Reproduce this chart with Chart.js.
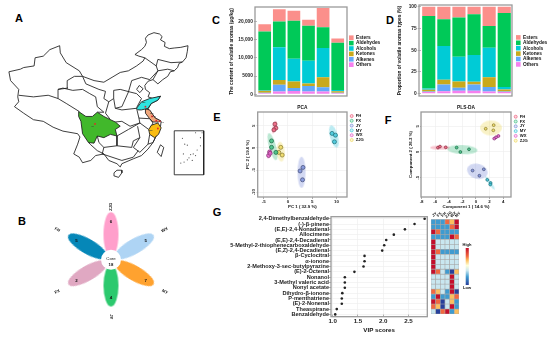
<!DOCTYPE html>
<html><head><meta charset="utf-8">
<style>
html,body{margin:0;padding:0;background:#fff;width:550px;height:337px;overflow:hidden}
canvas{position:absolute;left:0;top:0;filter:blur(.3px)}
.L{position:absolute;font:bold 11px "Liberation Sans",Arial,sans-serif;color:#000;line-height:11px;transform:translate(-50%,-50%)}
</style>
<script src="https://cdn.jsdelivr.net/npm/chart.js@4"></script>
</head><body>
<div class="L" style="left:19px;top:18px">A</div>
<div class="L" style="left:22px;top:221px">B</div>
<div class="L" style="left:216px;top:20px">C</div>
<div class="L" style="left:390px;top:20px">D</div>
<div class="L" style="left:217px;top:117px">E</div>
<div class="L" style="left:388px;top:120px">F</div>
<div class="L" style="left:217px;top:212px">G</div>
<script>
/* ---------- categories ---------- */
const categories=['JY','FX','FH','ZJG','WX','MY'];
const aromaTypes=['Esters','Aldehydes','Alcohols','Ketones','Alkenes','Others'];
const aromaColors=['#FB8F8B','#00C958','#00CBD6','#C9A91C','#62A9FA','#F680EE'];
const groupNames=['FH','FX','JY','MY','WX','ZJG'];
const groupColors=['#EE5F7C','#3FBE82','#7D90D9','#3FC7DA','#E560C9','#EFD95E'];

/* ---------- panel C: content (ug/kg) ---------- */
const contentOthers=[300,800,900,800,750,300];
const contentAlkenes=[150,1800,850,1500,1200,150];
const contentKetones=[550,1350,1750,650,2750,400];
const contentAlcohols=[200,8950,6300,6250,8050,350];
const contentAldehydes=[16050,7100,10400,9600,5700,12950];
const contentEsters=[2000,3400,2750,1650,5250,1150];
const contentTicks=[0,5000,10000,15000,20000];

/* ---------- panel D: proportion (%) ---------- */
const shareOthers=[2,3,3.5,3.5,2.7,2];
const shareAlkenes=[0.5,7.7,3.5,7.2,5,0.7];
const shareKetones=[2.1,5.3,7,3.1,11.3,2.3];
const shareAlcohols=[1.4,39,28.5,30.7,34,2.7];
const shareAldehydes=[83.3,30.5,45.2,47,25,85];
const shareEsters=[10.7,14.5,12.3,8.5,22,7.3];
const shareTicks=[0,25,50,75,100];

/* ---------- panel E: PCA scores ---------- */
const pcaFH=[[-2.7,5.4],[-2.5,4.5],[-2.9,4.1]];
const pcaFX=[[-3.4,1.6],[-3.4,0.15],[-2.5,-1.0]];
const pcaJY=[[3.1,-4.4],[2.5,-5.2],[3.0,-7.2]];
const pcaMY=[[9.1,3.3],[9.8,2.9],[9.6,1.4]];
const pcaWX=[[-3.8,-0.9],[-4.0,-1.7],[-3.7,-1.2]];
const pcaZJG=[[-1.5,0.15],[-1.9,-1],[-1.2,-1.6]];
const pcaEllipseCentres=[[-2.8,4.7],[-3.2,0.3],[2.8,-5.5],[9.5,2.6],[-3.9,-1.35],[-1.5,-0.85]];
const pcaXTicks=[-5,0,5,10];
const pcaYTicks=[-10,-5,0,5];

/* ---------- panel F: PLS-DA scores ---------- */
const plsFH=[[-5.6,0.85],[-5.3,1.05],[-4.45,0.9]];
const plsFX=[[-2.85,0.85],[-2.3,0],[-1.03,0.52]];
const plsJY=[[-0.5,-3.6],[1.15,-3.35],[0.5,-4.6]];
const plsMY=[[1.66,-5.4],[2.15,-6],[2.1,-6.3]];
const plsWX=[[2.7,2.6],[2.95,2.85],[3.3,3.1]];
const plsZJG=[[1.43,4.5],[2.6,5.2],[2.55,4.2]];
const plsEllipseCentres=[[-5.3,0.85],[-2.0,0.46],[0.2,-3.74],[2.06,-6],[2.94,2.85],[2.2,4.65]];
const plsXTicks=[-8,-6,-4,-2,0,2,4];
const plsYTicks=[-5,0,5];

/* ---------- panel G: VIP scores ---------- */
const compounds=['2,4-Dimethylbenzaldehyde','(-)-β-pinene','(E,E)-2,4-Nonadienal','Allocimene','(E,E)-2,4-Decadienal','5-Methyl-2-thiophenecarboxaldehyde','(E,Z)-2,4-Decadienal','β-Cyclocitral','α-ionone','2-Methoxy-3-sec-butylpyrazine','(E)-2-Octenal','Nonanol','3-Methyl valeric acid','Nonyl acetate','Dihydro-β-ionone','P-menthatriene','(E)-2-Nonenal','Theaspirane','Benzaldehyde'];
const vipScores=[2.82,2.62,2.43,2.21,2.06,2.02,1.98,1.63,1.63,1.61,1.43,1.24,1.24,1.24,1.19,1.18,1.18,1.08,1.05];
const vipTicks=[1.0,1.5,2.0,2.5];

/* ---------- heat map z-scores, one row per compound ---------- */
const heatRows=[
[-0.8,-0.8,-0.8,1.2,0.8,2],
[-0.8,-0.8,-0.8,-0.8,1.2,2],
[2,1.2,-0.8,-0.8,-0.8,-0.8],
[-0.8,-0.8,-0.8,-0.8,2,1.2],
[2,-0.2,-0.2,-0.2,-0.2,-0.2],
[2,-0.2,-0.2,-0.2,-0.2,-0.2],
[2,1.2,-0.8,-0.8,-0.8,-0.8],
[2,-0.2,-0.2,-0.2,-0.2,-0.2],
[2,-0.2,-0.2,-0.2,-0.2,-0.2],
[2,-0.2,-0.2,-0.2,-0.2,-0.2],
[2,1.2,-0.2,-0.8,-1.6,0.8],
[-0.2,-0.2,-0.2,-0.2,2,-0.2],
[-0.2,-0.2,-0.2,-0.2,2,-0.2],
[-0.2,-0.2,-0.2,-0.2,2,-0.2],
[1.2,0.8,-0.2,-0.8,2,-1.6],
[-0.8,2,-0.8,-0.8,0.8,1.2],
[2,1.2,-1.6,-0.2,0.8,-0.8],
[1.2,0.8,-1.6,-0.2,2,-0.8],
[-0.2,-1.6,1.2,2,-0.8,0.8]];
const heatStops=[[-1.6,'#27409B'],[-0.8,'#3F9BD0'],[-0.2,'#C9E7F0'],[0.3,'#FFFFD8'],[0.8,'#FCBF5F'],[1.2,'#F2683F'],[2,'#C40F2B']];

/* ---------- panel B: flower ---------- */
const petalNames=['ZJG','WX','MY','JY','FX','FH'];
const petalCounts=[6,5,7,4,2,5];
const petalColors=['#FF9FCB','#AED4F4','#FFA22F','#2CC96E','#E0A8C2','#0587B8'];
const coreCount=18;

/* ---------- panel A: map outlines ---------- */
const chinaBorder=[[432,105],[440,95],[458,88],[475,92],[483,100],[478,110],[492,118],[490,130],[505,137],[520,135],[540,133],[562,128],[560,145],[556,165],[545,178],[535,182],[530,195],[520,205],[508,208],[500,222],[485,232],[470,245],[455,232],[440,237],[430,250],[432,262],[445,272],[440,285],[455,290],[478,283],[470,295],[450,305],[440,322],[462,350],[480,360],[478,375],[470,395],[455,425],[440,445],[420,465],[395,475],[360,490],[355,500],[345,490],[320,480],[305,460],[280,465],[265,480],[240,487],[230,470],[213,460],[225,430],[232,408],[225,398],[180,390],[150,378],[120,360],[90,355],[60,335],[32,315],[45,300],[42,285],[45,262],[20,235],[15,208],[50,200],[60,195],[92,190],[95,165],[120,160],[140,140],[170,128],[172,150],[190,180],[230,205],[240,222],[275,235],[305,240],[330,225],[355,210],[380,205],[405,190],[425,175],[430,165],[412,160],[400,155],[420,140],[430,130],[435,118],[432,105]];
const provinceLines=[
[[45,280],[90,285],[135,280],[165,290],[165,262],[195,258],[193,235],[215,222],[240,222]],
[[165,262],[180,258],[210,265],[240,262],[262,275],[280,285],[285,315],[305,332],[285,332]],
[[165,290],[190,305],[230,330]],
[[240,222],[250,245],[290,262],[310,268],[305,290],[320,300],[335,290],[335,265],[355,262],[385,270]],
[[320,300],[310,335],[325,355]],
[[335,290],[340,320],[360,315],[380,270],[390,235],[420,225],[445,232]],
[[340,320],[360,325],[405,320],[412,350],[415,365],[385,375],[360,360],[340,362]],
[[385,270],[405,275],[420,290],[405,318]],
[[413,250],[425,260],[415,272],[405,262],[413,250]],
[[345,405],[380,385],[415,365],[442,385]],
[[345,405],[345,435],[390,440],[395,420],[415,410],[408,375]],
[[415,410],[395,440],[415,455],[440,430],[445,400]],
[[440,430],[455,425],[462,410]],
[[345,435],[305,440],[300,460],[360,480],[395,470],[410,450]],
[[285,405],[290,425],[305,440]],
[[258,425],[265,432],[285,450],[305,460]],
[[412,350],[445,352],[455,365],[445,385]],
[[545,178],[510,180],[470,170],[465,190]],
[[520,205],[500,200],[470,205],[455,232]],
[[430,165],[465,190],[470,205],[445,232]],
[[478,432],[488,440],[480,468],[468,455],[478,432]],
[[336,518],[345,510],[360,510],[360,518],[350,532],[338,528],[336,518]]];
const sichuan=[[228,330],[250,345],[270,345],[285,332],[305,345],[325,355],[340,362],[355,375],[340,385],[345,405],[325,400],[305,410],[285,405],[275,427],[258,425],[240,398],[235,360],[228,345],[228,330]];
const shandong=[[405,320],[420,300],[445,290],[478,283],[470,295],[450,305],[440,320],[420,325],[410,325],[405,320]];
const jiangsu=[[432,322],[445,325],[462,350],[478,358],[472,362],[455,362],[445,352],[432,335],[432,322]];
const zhejiang=[[450,372],[470,365],[480,380],[472,400],[460,410],[445,400],[442,385],[450,372]];
const insetBox=[[520,389],[610,389],[610,524],[520,524],[520,389]];
const insetIslands=[[545,412],[552,430],[560,433],[600,410],[548,460],[570,462],[578,460],[585,465],[565,472],[560,478],[550,485],[540,488],[575,480],[600,435],[590,448],[605,395],[585,395]];
const sampleSites=[[278,368],[432,315],[452,345],[465,358],[476,360],[470,382]];
const siteNames=['JY','WX','MY','FH','FX','ZJG'];
const siteLabelAt=[[278,379],[431,306],[456,340],[462,350],[488,367],[452,390]];

/* ---------- helpers ---------- */
const F='"Liberation Sans",Arial,sans-serif';
const fnt=(s,b=true)=>(b?'bold ':'')+s+'px '+F;
const font=(s,b=true)=>({family:F,size:s,weight:b?'bold':'normal'});
const fixTicks=a=>s=>{s.ticks=a.map(v=>({value:v}))};
function overlay(items){return{id:'overlay',afterDraw(c){const g=c.ctx;g.save();
  for(const it of items){
    if(it.frame){g.strokeStyle=it.color||'#9a9a9a';g.lineWidth=it.lw||1.3;g.strokeRect(it.x,it.y,it.w,it.h);continue}
    if(it.box){g.fillStyle=it.color;g.fillRect(it.x,it.y,it.w,it.h);continue}
    if(it.ring){g.beginPath();g.arc(it.x,it.y,1.5,0,7);g.fillStyle=alpha(it.color,.25);g.fill();g.lineWidth=.7;g.strokeStyle=it.color;g.stroke();continue}
    g.save();g.translate(it.x,it.y);if(it.rot)g.rotate(it.rot*Math.PI/180);
    g.fillStyle=it.color||'#111';g.font=it.font;g.textAlign=it.align||'center';g.textBaseline='middle';g.fillText(it.t,0,0);g.restore();
  }g.restore();}}}
function panel(type,box,data,xs,ys,items,opt={}){
  const c=document.createElement('canvas');c.width=550;c.height=337;c.style.width='550px';c.style.height='337px';document.body.appendChild(c);
  const xH=box.xH||0,yW=box.yW||0,top=xs.position==='top';
  xs.afterFit=s=>{s.height=xH};ys.afterFit=s=>{s.width=yW};
  return new Chart(c.getContext('2d'),{type,data,plugins:[overlay(items||[])],options:Object.assign({
    responsive:false,animation:false,devicePixelRatio:1,events:[],
    layout:{padding:{left:box.L-yW,right:550-box.R,top:box.T-(top?xH:0),bottom:337-box.B-(top?0:xH)}},
    scales:{x:xs,y:ys},plugins:{legend:{display:false},tooltip:{enabled:false},title:{display:false}}},opt)});
}
function ellipseImg(w,h,fill){const c=document.createElement('canvas');c.width=Math.ceil(w)+2;c.height=Math.ceil(h)+2;const g=c.getContext('2d');g.fillStyle=fill;g.beginPath();g.ellipse(c.width/2,c.height/2,w/2,h/2,0,0,7);g.fill();return c;}
function alpha(hex,a){const n=parseInt(hex.slice(1),16);return`rgba(${n>>16},${n>>8&255},${n&255},${a})`}
function dark(hex,f){const n=parseInt(hex.slice(1),16);return`rgb(${(n>>16)*f|0},${(n>>8&255)*f|0},${(n&255)*f|0})`}
const pts=a=>a.map(p=>({x:p[0],y:p[1]}));
function heatColor(v){for(let i=1;i<heatStops.length;i++){if(v<=heatStops[i][0]){const[a,ca]=heatStops[i-1],[b,cb]=heatStops[i],t=(v-a)/(b-a);const p=h=>{const n=parseInt(h.slice(1),16);return[n>>16,n>>8&255,n&255]};const A=p(ca),B=p(cb);return`rgb(${A.map((x,j)=>Math.round(x+(B[j]-x)*t)).join(',')})`}}return heatStops[heatStops.length-1][1]}

function stacked(box,frame,series,ymin,ymax,ticks,title,legendX,legendY,tickFmt){
  const order=[5,4,3,2,1,0];
  const ds=series.map((d,i)=>({label:aromaTypes[order[i]],data:d,backgroundColor:aromaColors[order[i]],barPercentage:.87,categoryPercentage:1}));
  const items=[{frame:1,x:frame.x,y:frame.y,w:frame.w,h:frame.h}];
  aromaTypes.forEach((n,i)=>{const y=legendY+i*5.4;items.push({box:1,x:legendX,y:y-2.3,w:4.6,h:4.6,color:aromaColors[i]});items.push({t:n,x:legendX+7,y,align:'left',font:fnt(4.8)})});
  panel('bar',box,{labels:categories,datasets:ds},
   {stacked:true,grid:{display:false},border:{display:false},ticks:{font:font(4.8),color:'#222',padding:1,maxRotation:0,autoSkip:false}},
   {stacked:true,min:ymin,max:ymax,afterBuildTicks:fixTicks(ticks),grid:{drawOnChartArea:false,tickLength:box.tl,tickColor:'#777',tickWidth:.5},border:{display:false},
    title:{display:true,text:title,font:font(4.8),color:'#111',padding:0},
    ticks:{font:font(4.8),color:'#222',padding:1,autoSkip:false,callback:tickFmt}},items);
}
/* C */
stacked({L:257.4,R:345,T:7,B:96,yW:28.4,xH:9,tl:3.5},{x:255,y:7,w:92,h:89},
 [contentOthers,contentAlkenes,contentKetones,contentAlcohols,contentAldehydes,contentEsters],-467,23984,contentTicks,
 'The content of volatile aromas (μg/kg)',349,37.7,v=>v===5000?'5000':v===0?'0':v.toLocaleString('en-US'));
/* D */
stacked({L:421.2,R:511.8,T:5,B:96,yW:24,xH:9,tl:3.5},{x:419,y:5,w:93,h:91},
 [shareOthers,shareAlkenes,shareKetones,shareAlcohols,shareAldehydes,shareEsters],-2.6,102,shareTicks,
 'Proportion of volatile aromas types (%)',516,37.4,v=>v);

function scoreChart(box,frame,groups,centres,sizes,xr,yr,xTicks,yTicks,xTitle,yTitle,legendX,legendY,r,title){
  const rings=groups.map((g,i)=>({data:pts(g),showLine:false,pointRadius:r,pointBorderWidth:.8,pointBackgroundColor:alpha(groupColors[i],.85),pointBorderColor:dark(groupColors[i],.6)}));
  const ell=centres.map((c,i)=>({data:pts([c]),showLine:false,pointStyle:ellipseImg(sizes[i][0],sizes[i][1],alpha(groupColors[i],.35)),pointRadius:5,rotation:sizes[i][2],pointBorderWidth:0}));
  const items=[{frame:1,x:frame.x,y:frame.y,w:frame.w,h:frame.h}];
  items.push({t:title,x:frame.x+frame.w/2,y:frame.y-4.8,font:fnt(4.8)});
  groupNames.forEach((n,i)=>{const y=legendY+i*4.8;items.push({ring:1,x:legendX,y,color:groupColors[i]});items.push({t:n,x:legendX+4,y,align:'left',font:fnt(4.2)})});
  panel('scatter',box,{datasets:rings.concat(ell)},
   {min:xr[0],max:xr[1],afterBuildTicks:fixTicks(xTicks),grid:{color:'#ececec',lineWidth:.6,tickLength:2,tickColor:'#777'},border:{display:false},
    title:{display:true,text:xTitle,font:font(4.4),color:'#111',padding:0},
    ticks:{font:font(4.4),color:'#222',padding:0,maxRotation:0,autoSkip:false}},
   {min:yr[0],max:yr[1],afterBuildTicks:fixTicks(yTicks),grid:{color:'#ececec',lineWidth:.6,tickLength:1,tickColor:'#777'},border:{display:false},
    title:{display:true,text:yTitle,font:font(4.4),color:'#111',padding:0},
    ticks:{font:font(4.4),color:'#222',padding:0,minRotation:90,maxRotation:90,crossAlign:'center',autoSkip:false}},
   items);
}
/* E */
scoreChart({L:257.7,R:347,T:112,B:197,yW:12.5,xH:12},{x:257.7,y:112,w:89.3,h:85},
 [pcaFH,pcaFX,pcaJY,pcaMY,pcaWX,pcaZJG],pcaEllipseCentres,[[4,13,15],[7,28,-15],[8,31,0],[8,23,-15],[3,10,15],[8,20,-5]],
 [-6.26,12.19],[-11.09,8.14],pcaXTicks,pcaYTicks,'PC 1 ( 32.9 %)','PC 2 ( 19.6 %)',351.7,116,2,'PCA');
/* F */
scoreChart({L:421,R:511,T:112,B:197,yW:13,xH:12},{x:421,y:112,w:90,h:85},
 [plsFH,plsFX,plsJY,plsMY,plsWX,plsZJG],plsEllipseCentres,[[20,4,0],[30,9,3],[21,15,15],[3,16,-35],[9,2.5,-25],[22,15,0]],
 [-8.09,5.15],[-8.72,7.75],plsXTicks,plsYTicks,'Component 1 ( 14.6 %)','Component 2 ( 26.3 %)',515.7,116.7,1.4,'PLS-DA');

/* G */
panel('line',{L:331,R:427.3,T:218.7,B:314.4,yW:106,xH:19.6},{labels:compounds,datasets:[{data:vipScores,showLine:false,pointRadius:1.3,pointBackgroundColor:'#222',pointBorderWidth:0}]},
 {type:'linear',min:0.966,max:2.873,afterBuildTicks:fixTicks(vipTicks),grid:{color:'#ededed',lineWidth:.6,tickLength:2,tickColor:'#777'},border:{display:false},
  title:{display:true,text:'VIP scores',font:font(6.2),color:'#111',padding:0},
  ticks:{font:font(6.2),color:'#222',padding:1.5,autoSkip:false,maxRotation:0,callback:v=>v.toFixed(1)}},
 {type:'category',labels:compounds,grid:{color:'#ededed',lineWidth:.6,offset:false,tickLength:2,tickColor:'#777'},border:{display:false},
  ticks:{font:font(5.6),color:'#222',padding:0,autoSkip:false}},
 [{frame:1,x:331,y:216.7,w:96.3,h:100}],{indexAxis:'y'});

/* heat map */
panel('bar',{L:431,R:459,T:219.3,B:314,xH:10},{labels:categories,datasets:heatRows.map(r=>({data:r.map(()=>1),backgroundColor:r.map(heatColor),borderColor:'#a8a8a8',borderWidth:.6,borderSkipped:false,barPercentage:1,categoryPercentage:1}))},
 {position:'top',stacked:true,grid:{display:false},border:{display:false},ticks:{display:false}},
 {stacked:true,min:0,max:19,reverse:true,display:false},
 categories.map((n,i)=>({t:n,x:431+4.67*(i+.5)+1.2,y:214.6,rot:-45,align:'center',font:fnt(4)})));

/* colour bar */
panel('bar',{L:465.6,R:468.8,T:248,B:285},{labels:[''],datasets:[{data:[1],barPercentage:1,categoryPercentage:1,
  backgroundColor:ctx=>{const g=ctx.chart.ctx.createLinearGradient(0,248,0,285);heatStops.forEach(s=>g.addColorStop(1-(s[0]+1.6)/3.6,s[1]));return g}}]},
 {display:false},{display:false,min:0,max:1},
 [{t:'High',x:467,y:245,font:fnt(4)},{t:'Low',x:467,y:287.6,font:fnt(4)}]);

/* B flower */
{
 const R=[25.7,27,27,26,27,27],A=[0,60,120,180,240,300];
 const w=[15,15,15,15,15,15],L=[44.7,44.7,44.7,42,44.7,44.7];
 const cx=111,cy=260.7,labD=[54,62,62,56,62,62],numD=[39,40,40,37,40,40];
 const ds=petalNames.map((n,i)=>({data:[{x:R[i]*Math.sin(A[i]*Math.PI/180),y:R[i]*Math.cos(A[i]*Math.PI/180)}],showLine:false,pointRadius:5,pointStyle:ellipseImg(w[i],L[i],petalColors[i]),rotation:A[i],pointBorderWidth:0}));
 const items=[];
 petalNames.forEach((n,i)=>{const s=Math.sin(A[i]*Math.PI/180),c=Math.cos(A[i]*Math.PI/180);
  items.push({t:String(petalCounts[i]),x:cx+numD[i]*s,y:cy-numD[i]*c,font:fnt(4.4)});
  let rot=A[i]-90;if(i===3)rot=90;if(i===4)rot=-30;if(i===5)rot=30;
  items.push({t:n,x:cx+labD[i]*s,y:cy-labD[i]*c,font:fnt(4.2),rot});});
 items.push({t:'Core',x:cx,y:cy-1.8,font:fnt(4.3,false)},{t:String(coreCount),x:cx,y:cy+3.8,font:fnt(4.3)});
 ds.unshift({data:[{x:0,y:0}],showLine:false,pointRadius:10,pointBackgroundColor:'#fff',pointBorderWidth:0});
 panel('scatter',{L:36,R:186,T:193,B:328},{datasets:ds},{display:false,min:-75,max:75},{display:false,min:-67.7,max:67.3},items);
}

/* A map */
{
 const line=(a,bg)=>({data:pts(a),showLine:true,tension:0,pointRadius:0,borderColor:'#1c1c1c',borderWidth:.85,fill:bg?'shape':false,backgroundColor:bg||'transparent'});
 const ds=[
  {data:pts(sampleSites),showLine:false,pointRadius:.9,pointBackgroundColor:'#E8222A',pointBorderWidth:0},
  {data:pts(insetIslands),showLine:false,pointRadius:.6,pointBackgroundColor:'#555',pointBorderWidth:0},
  line(sichuan,'#41B82B'),line(shandong,'#2EE6E2'),line(jiangsu,'#EFA77C'),line(zhejiang,'#F9BC12'),
  line(insetBox)].concat(provinceLines.map(a=>line(a)),[line(chinaBorder)]);
 const items=siteNames.map((n,i)=>({t:n,x:siteLabelAt[i][0]/3,y:siteLabelAt[i][1]/3,font:fnt(2.2),color:'#333'}));
 panel('scatter',{L:0,R:225,T:0,B:180},{datasets:ds},{display:false,min:0,max:675},{display:false,min:0,max:540,reverse:true},items);
}
</script>
</body></html>
